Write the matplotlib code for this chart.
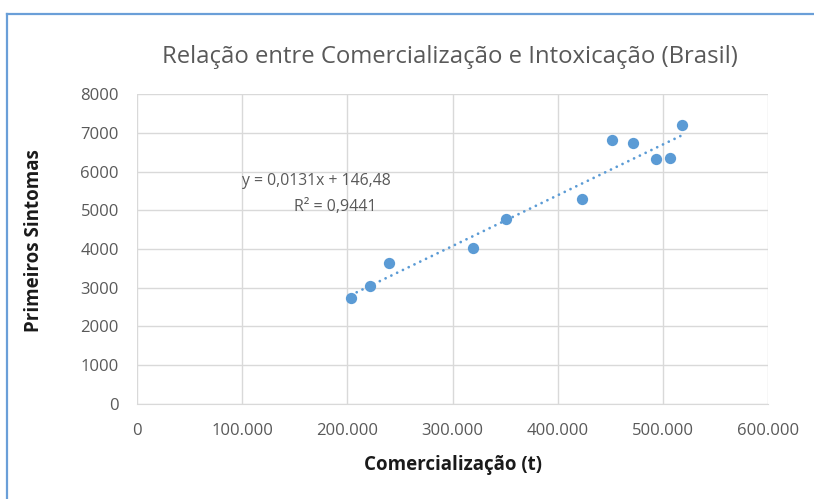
import matplotlib
matplotlib.use('Agg')
from matplotlib import pyplot as plt
from matplotlib.lines import Line2D
from matplotlib.ticker import FuncFormatter

# dados
comercializacao = [203400, 221500, 239500, 319400, 350800, 423000,
                   451500, 471500, 493300, 506700, 518000]
primeiros_sintomas = [2735, 3045, 3640, 4026, 4774, 5290,
                      6813, 6735, 6323, 6348, 7200]
slope = 0.0131
intercept = 146.48
eq_label = 'y = 0,0131x + 146,48'
r2_label = 'R² = 0,9441'

plt.rcParams['font.family'] = ['Open Sans', 'DejaVu Sans']
blue = '#5B9BD5'
grey = '#595959'

fig = plt.figure(figsize=(8.14, 4.99), dpi=100)
ax = fig.add_axes([0.1683, 0.1904, 0.7752, 0.6212])

# linha de tendencia (pontilhada)
xs = [min(comercializacao), max(comercializacao)]
ys = [slope * x + intercept for x in xs]
ax.plot(xs, ys, color=blue, lw=2, linestyle=(0, (0.01, 2.3)),
        dash_capstyle='round', zorder=2)

ax.scatter(comercializacao, primeiros_sintomas, s=66, color=blue, zorder=3,
           linewidths=0)

ax.set_xlim(0, 600000)
ax.set_ylim(0, 8000)
ax.set_xticks(range(0, 600001, 100000))
ax.set_yticks(range(0, 8001, 1000))
ax.xaxis.set_major_formatter(FuncFormatter(lambda v, p: f'{int(v):,}'.replace(',', '.')))

ax.grid(True, color='#d9d9d9', lw=1)
ax.set_axisbelow(True)
for s in ['top', 'right', 'left']:
    ax.spines[s].set_visible(False)
ax.spines['bottom'].set_color('#d9d9d9')
ax.tick_params(length=0, labelsize=12, labelcolor=grey)
ax.tick_params(axis='y', pad=13)
ax.tick_params(axis='x', pad=14)

ax.text(170200, 5755, eq_label, ha='center', va='center', fontsize=11.3, color=grey)
ax.text(188200, 5084, r2_label, ha='center', va='center', fontsize=11.5, color=grey)

ax.set_xlabel('Comercialização (t)', fontsize=13.5, fontweight='bold',
              color='#1a1a1a', labelpad=11)
ax.set_ylabel('Primeiros Sintomas', fontsize=13.5, fontweight='bold',
              color='#1a1a1a')
ax.yaxis.set_label_coords(-0.148, 0.527)
fig.text(0.553, 0.886, 'Relação entre Comercialização e Intoxicação (Brasil)',
         ha='center', va='center', fontsize=17.2, color=grey)

# moldura azul
fig.add_artist(Line2D([7 / 814, 7 / 814], [0, 1 - 14 / 499], color='#6a9fd8', lw=1.6))
fig.add_artist(Line2D([7 / 814, 1], [1 - 14 / 499, 1 - 14 / 499], color='#6a9fd8', lw=1.6))

fig.savefig('out.png', dpi=100)
